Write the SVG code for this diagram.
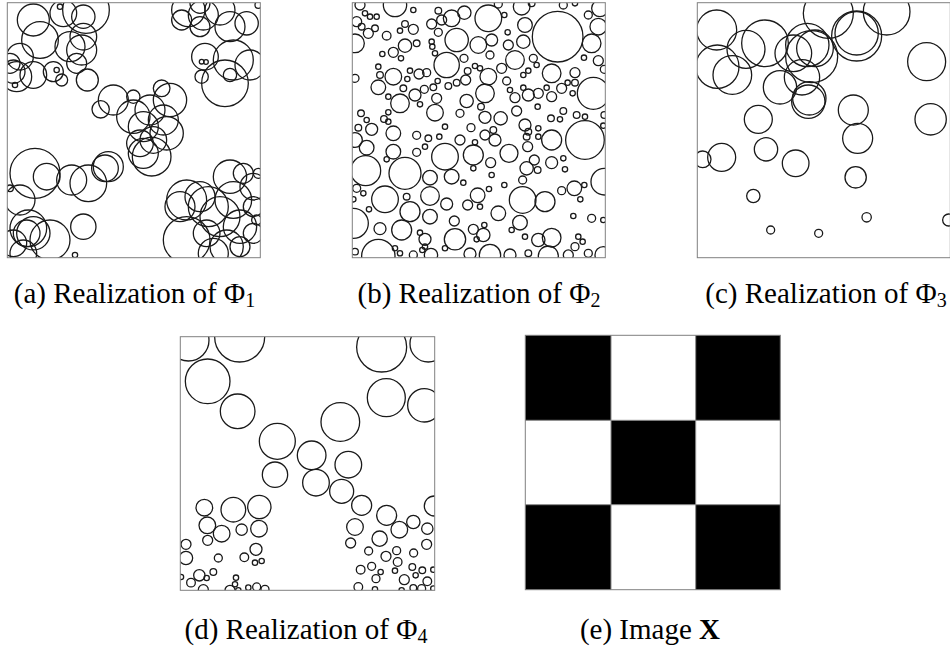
<svg xmlns="http://www.w3.org/2000/svg" width="950" height="648" viewBox="0 0 950 648">
<style>
.c circle{fill:none;stroke:#1a1a1a;stroke-width:3.9}
.fr{fill:none;stroke:#808080;stroke-width:1}
.cap{font-family:"Liberation Serif","Times New Roman",serif;font-size:29px;fill:#000;text-anchor:middle}
.sub{font-size:20px}
</style>
<defs>
<clipPath id="ca"><rect x="7.3" y="2.7" width="253" height="255"/></clipPath>
<clipPath id="cb"><rect x="352.3" y="2.7" width="253" height="255"/></clipPath>
<clipPath id="cc"><rect x="697.3" y="2.7" width="253" height="255"/></clipPath>
<clipPath id="cd"><rect x="180.3" y="336.7" width="254.4" height="253.6"/></clipPath>
</defs>
<rect width="950" height="648" fill="#fff"/>

<g id="panel-a">
<rect x="7.3" y="2.7" width="253" height="255" fill="#fff"/>
<g clip-path="url(#ca)"><g class="c" transform="scale(0.3333)">
<circle cx="100" cy="60" r="48"/><circle cx="120" cy="120" r="55"/><circle cx="190" cy="40" r="40"/><circle cx="250" cy="50" r="35"/><circle cx="258" cy="30" r="70"/><circle cx="210" cy="140" r="45"/><circle cx="250" cy="110" r="40"/><circle cx="245" cy="150" r="45"/><circle cx="230" cy="190" r="30"/><circle cx="60" cy="170" r="40"/><circle cx="40" cy="215" r="35"/><circle cx="100" cy="225" r="40"/><circle cx="160" cy="215" r="30"/><circle cx="50" cy="230" r="45"/><circle cx="185" cy="240" r="18"/><circle cx="170" cy="210" r="8"/><circle cx="45" cy="255" r="8"/><circle cx="180" cy="20" r="8"/><circle cx="262" cy="240" r="33"/><circle cx="30" cy="190" r="30"/>
<circle cx="565" cy="30" r="50"/><circle cx="610" cy="45" r="45"/><circle cx="660" cy="30" r="45"/><circle cx="690" cy="80" r="45"/><circle cx="740" cy="70" r="35"/><circle cx="600" cy="80" r="30"/><circle cx="545" cy="60" r="30"/><circle cx="700" cy="180" r="60"/><circle cx="615" cy="170" r="40"/><circle cx="750" cy="195" r="45"/><circle cx="675" cy="250" r="70"/><circle cx="605" cy="230" r="20"/><circle cx="690" cy="225" r="20"/><circle cx="605" cy="185" r="7"/><circle cx="618" cy="186" r="7"/><circle cx="775" cy="15" r="10"/><circle cx="600" cy="10" r="30"/>
<circle cx="340" cy="300" r="45"/><circle cx="302" cy="328" r="26"/><circle cx="400" cy="290" r="20"/><circle cx="485" cy="265" r="25"/><circle cx="510" cy="300" r="50"/><circle cx="450" cy="330" r="45"/><circle cx="400" cy="350" r="50"/><circle cx="430" cy="380" r="45"/><circle cx="490" cy="360" r="45"/><circle cx="500" cy="400" r="50"/><circle cx="460" cy="420" r="40"/><circle cx="430" cy="460" r="45"/><circle cx="455" cy="470" r="58"/><circle cx="420" cy="430" r="40"/>
<circle cx="105" cy="520" r="75"/><circle cx="140" cy="530" r="40"/><circle cx="215" cy="540" r="45"/><circle cx="265" cy="550" r="55"/><circle cx="325" cy="500" r="45"/><circle cx="315" cy="505" r="40"/><circle cx="60" cy="600" r="45"/><circle cx="30" cy="565" r="10"/><circle cx="85" cy="685" r="55"/><circle cx="80" cy="700" r="40"/><circle cx="100" cy="700" r="50"/><circle cx="250" cy="680" r="38"/><circle cx="150" cy="720" r="60"/><circle cx="40" cy="730" r="40"/><circle cx="70" cy="760" r="40"/><circle cx="225" cy="765" r="8"/>
<circle cx="560" cy="600" r="60"/><circle cx="540" cy="620" r="45"/><circle cx="600" cy="590" r="45"/><circle cx="625" cy="620" r="60"/><circle cx="690" cy="530" r="50"/><circle cx="730" cy="520" r="30"/><circle cx="760" cy="560" r="40"/><circle cx="700" cy="600" r="55"/><circle cx="660" cy="650" r="60"/><circle cx="720" cy="680" r="50"/><circle cx="560" cy="720" r="70"/><circle cx="620" cy="700" r="40"/><circle cx="680" cy="740" r="50"/><circle cx="720" cy="740" r="30"/><circle cx="760" cy="620" r="30"/><circle cx="770" cy="660" r="15"/><circle cx="775" cy="520" r="15"/><circle cx="640" cy="760" r="45"/><circle cx="760" cy="700" r="30"/>
</g></g>
<rect class="fr" x="7.3" y="2.7" width="253" height="255"/>
</g>

<g id="panel-b">
<g clip-path="url(#cb)"><g class="c" transform="translate(345,0) scale(0.3333)">
<circle cx="150" cy="15" r="35"/><circle cx="45" cy="15" r="15"/><circle cx="60" cy="40" r="8"/><circle cx="75" cy="50" r="8"/><circle cx="95" cy="50" r="8"/><circle cx="35" cy="65" r="15"/><circle cx="50" cy="80" r="10"/><circle cx="70" cy="100" r="15"/><circle cx="90" cy="85" r="10"/><circle cx="30" cy="130" r="28"/><circle cx="125" cy="107" r="13"/><circle cx="180" cy="72" r="10"/><circle cx="165" cy="92" r="8"/><circle cx="205" cy="88" r="15"/><circle cx="260" cy="72" r="15"/><circle cx="280" cy="97" r="12"/><circle cx="205" cy="30" r="8"/><circle cx="280" cy="32" r="10"/><circle cx="290" cy="60" r="15"/><circle cx="320" cy="55" r="25"/><circle cx="358" cy="38" r="20"/><circle cx="430" cy="55" r="40"/><circle cx="460" cy="12" r="12"/><circle cx="478" cy="45" r="8"/><circle cx="530" cy="20" r="25"/><circle cx="540" cy="75" r="22"/><circle cx="560" cy="10" r="10"/><circle cx="638" cy="110" r="76"/><circle cx="655" cy="15" r="12"/><circle cx="690" cy="10" r="8"/><circle cx="730" cy="45" r="12"/><circle cx="760" cy="80" r="25"/><circle cx="765" cy="25" r="25"/><circle cx="740" cy="130" r="28"/><circle cx="335" cy="120" r="35"/><circle cx="400" cy="135" r="25"/><circle cx="440" cy="120" r="18"/><circle cx="488" cy="97" r="8"/><circle cx="490" cy="135" r="15"/><circle cx="535" cy="125" r="20"/><circle cx="260" cy="125" r="8"/><circle cx="262" cy="140" r="8"/><circle cx="215" cy="130" r="10"/><circle cx="180" cy="137" r="20"/><circle cx="145" cy="157" r="15"/><circle cx="112" cy="162" r="8"/><circle cx="168" cy="175" r="8"/><circle cx="270" cy="160" r="8"/><circle cx="305" cy="195" r="38"/><circle cx="357" cy="175" r="12"/><circle cx="435" cy="165" r="12"/><circle cx="510" cy="180" r="28"/><circle cx="565" cy="175" r="12"/><circle cx="717" cy="173" r="8"/><circle cx="760" cy="182" r="15"/><circle cx="778" cy="208" r="12"/><circle cx="620" cy="220" r="28"/><circle cx="690" cy="218" r="15"/><circle cx="575" cy="195" r="8"/><circle cx="550" cy="212" r="8"/><circle cx="535" cy="225" r="8"/><circle cx="470" cy="205" r="15"/><circle cx="430" cy="230" r="25"/><circle cx="405" cy="205" r="8"/><circle cx="390" cy="198" r="8"/><circle cx="368" cy="213" r="10"/><circle cx="362" cy="240" r="15"/><circle cx="335" cy="248" r="10"/><circle cx="310" cy="258" r="10"/><circle cx="245" cy="218" r="12"/><circle cx="222" cy="222" r="15"/><circle cx="195" cy="212" r="8"/><circle cx="187" cy="237" r="8"/><circle cx="145" cy="230" r="25"/><circle cx="105" cy="225" r="10"/><circle cx="100" cy="200" r="8"/><circle cx="100" cy="262" r="22"/><circle cx="30" cy="235" r="12"/><circle cx="130" cy="290" r="8"/><circle cx="175" cy="265" r="10"/><circle cx="165" cy="310" r="28"/><circle cx="210" cy="285" r="18"/><circle cx="238" cy="268" r="12"/><circle cx="265" cy="262" r="10"/><circle cx="278" cy="243" r="8"/><circle cx="275" cy="295" r="15"/><circle cx="225" cy="313" r="8"/><circle cx="270" cy="338" r="25"/><circle cx="365" cy="303" r="20"/><circle cx="420" cy="280" r="28"/><circle cx="408" cy="320" r="10"/><circle cx="485" cy="243" r="12"/><circle cx="495" cy="270" r="8"/><circle cx="510" cy="293" r="15"/><circle cx="535" cy="263" r="8"/><circle cx="550" cy="285" r="18"/><circle cx="580" cy="280" r="15"/><circle cx="605" cy="263" r="8"/><circle cx="620" cy="290" r="15"/><circle cx="650" cy="265" r="15"/><circle cx="668" cy="248" r="8"/><circle cx="683" cy="280" r="8"/><circle cx="690" cy="248" r="10"/><circle cx="745" cy="280" r="48"/><circle cx="778" cy="345" r="10"/><circle cx="695" cy="345" r="10"/><circle cx="720" cy="350" r="8"/><circle cx="655" cy="333" r="10"/><circle cx="645" cy="358" r="8"/><circle cx="618" cy="355" r="10"/><circle cx="578" cy="320" r="8"/><circle cx="515" cy="333" r="15"/><circle cx="540" cy="375" r="18"/><circle cx="550" cy="395" r="10"/><circle cx="545" cy="410" r="10"/><circle cx="548" cy="440" r="15"/><circle cx="580" cy="385" r="8"/><circle cx="580" cy="410" r="8"/><circle cx="620" cy="420" r="30"/><circle cx="720" cy="420" r="58"/><circle cx="775" cy="377" r="8"/><circle cx="420" cy="352" r="18"/><circle cx="467" cy="355" r="20"/><circle cx="378" cy="383" r="12"/><circle cx="390" cy="427" r="8"/><circle cx="420" cy="405" r="15"/><circle cx="445" cy="390" r="10"/><circle cx="450" cy="420" r="18"/><circle cx="345" cy="340" r="12"/><circle cx="300" cy="380" r="8"/><circle cx="283" cy="410" r="8"/><circle cx="250" cy="415" r="10"/><circle cx="240" cy="440" r="8"/><circle cx="215" cy="406" r="12"/><circle cx="145" cy="400" r="22"/><circle cx="117" cy="357" r="10"/><circle cx="130" cy="365" r="8"/><circle cx="80" cy="388" r="18"/><circle cx="40" cy="383" r="10"/><circle cx="48" cy="340" r="10"/><circle cx="65" cy="360" r="8"/><circle cx="130" cy="337" r="8"/><circle cx="30" cy="420" r="22"/><circle cx="65" cy="443" r="22"/><circle cx="145" cy="455" r="22"/><circle cx="125" cy="478" r="8"/><circle cx="215" cy="457" r="12"/><circle cx="300" cy="470" r="40"/><circle cx="345" cy="420" r="15"/><circle cx="385" cy="465" r="30"/><circle cx="437" cy="488" r="15"/><circle cx="492" cy="460" r="27"/><circle cx="545" cy="505" r="20"/><circle cx="578" cy="510" r="10"/><circle cx="568" cy="480" r="15"/><circle cx="620" cy="488" r="18"/><circle cx="655" cy="475" r="8"/><circle cx="660" cy="508" r="8"/><circle cx="62" cy="512" r="45"/><circle cx="180" cy="520" r="48"/><circle cx="255" cy="533" r="22"/><circle cx="320" cy="530" r="22"/><circle cx="35" cy="565" r="12"/><circle cx="55" cy="580" r="8"/><circle cx="25" cy="598" r="8"/><circle cx="120" cy="598" r="40"/><circle cx="185" cy="590" r="10"/><circle cx="255" cy="588" r="28"/><circle cx="305" cy="612" r="18"/><circle cx="368" cy="615" r="15"/><circle cx="398" cy="586" r="22"/><circle cx="432" cy="567" r="8"/><circle cx="405" cy="620" r="8"/><circle cx="478" cy="555" r="8"/><circle cx="533" cy="540" r="12"/><circle cx="533" cy="600" r="40"/><circle cx="600" cy="605" r="30"/><circle cx="650" cy="572" r="12"/><circle cx="688" cy="565" r="22"/><circle cx="706" cy="598" r="8"/><circle cx="718" cy="555" r="8"/><circle cx="778" cy="545" r="40"/><circle cx="72" cy="628" r="8"/><circle cx="25" cy="670" r="45"/><circle cx="105" cy="686" r="18"/><circle cx="170" cy="690" r="30"/><circle cx="195" cy="635" r="30"/><circle cx="255" cy="650" r="22"/><circle cx="328" cy="663" r="15"/><circle cx="330" cy="718" r="32"/><circle cx="385" cy="688" r="15"/><circle cx="415" cy="705" r="20"/><circle cx="418" cy="675" r="8"/><circle cx="460" cy="640" r="22"/><circle cx="525" cy="668" r="22"/><circle cx="500" cy="690" r="8"/><circle cx="540" cy="710" r="8"/><circle cx="580" cy="720" r="20"/><circle cx="620" cy="713" r="28"/><circle cx="685" cy="648" r="8"/><circle cx="740" cy="655" r="12"/><circle cx="775" cy="660" r="8"/><circle cx="700" cy="710" r="8"/><circle cx="713" cy="725" r="8"/><circle cx="225" cy="698" r="8"/><circle cx="240" cy="718" r="18"/><circle cx="240" cy="740" r="8"/><circle cx="232" cy="750" r="8"/><circle cx="100" cy="768" r="50"/><circle cx="150" cy="745" r="8"/><circle cx="165" cy="760" r="8"/><circle cx="205" cy="765" r="12"/><circle cx="258" cy="765" r="20"/><circle cx="300" cy="745" r="8"/><circle cx="375" cy="762" r="18"/><circle cx="435" cy="765" r="32"/><circle cx="495" cy="765" r="18"/><circle cx="550" cy="760" r="10"/><circle cx="610" cy="768" r="30"/><circle cx="670" cy="765" r="15"/><circle cx="690" cy="740" r="12"/><circle cx="730" cy="760" r="12"/><circle cx="775" cy="765" r="25"/><circle cx="30" cy="755" r="10"/><circle cx="395" cy="718" r="8"/><circle cx="385" cy="505" r="8"/><circle cx="440" cy="525" r="8"/><circle cx="355" cy="548" r="8"/>
</g></g>
<rect class="fr" x="352.3" y="2.7" width="253" height="255"/>
</g>

<g id="panel-c">
<g clip-path="url(#cc)"><g class="c" transform="translate(690,0) scale(0.3333)">
<circle cx="80" cy="90" r="60"/><circle cx="82" cy="200" r="65"/><circle cx="127" cy="225" r="58"/><circle cx="168" cy="148" r="57"/><circle cx="225" cy="130" r="70"/><circle cx="270" cy="262" r="50"/><circle cx="310" cy="160" r="55"/><circle cx="352" cy="135" r="65"/><circle cx="365" cy="170" r="78"/><circle cx="375" cy="145" r="55"/><circle cx="336" cy="232" r="53"/><circle cx="358" cy="295" r="50"/><circle cx="355" cy="305" r="50"/><circle cx="415" cy="40" r="75"/><circle cx="500" cy="100" r="65"/><circle cx="500" cy="108" r="75"/><circle cx="590" cy="35" r="70"/><circle cx="710" cy="185" r="57"/><circle cx="722" cy="358" r="47"/><circle cx="490" cy="330" r="45"/><circle cx="503" cy="415" r="45"/><circle cx="497" cy="532" r="32"/><circle cx="205" cy="358" r="42"/><circle cx="228" cy="448" r="35"/><circle cx="317" cy="490" r="40"/><circle cx="95" cy="472" r="42"/><circle cx="38" cy="478" r="25"/><circle cx="190" cy="588" r="20"/><circle cx="242" cy="690" r="12"/><circle cx="386" cy="700" r="12"/><circle cx="530" cy="652" r="14"/><circle cx="776" cy="660" r="18"/>
</g></g>
<rect class="fr" x="697.3" y="2.7" width="253" height="255"/>
</g>

<g id="panel-d">
<g clip-path="url(#cd)"><g class="c" transform="translate(175,332) scale(0.3333)">
<circle cx="40" cy="25" r="62"/><circle cx="194" cy="15" r="75"/><circle cx="98" cy="148" r="67"/><circle cx="188" cy="238" r="52"/><circle cx="307" cy="328" r="54"/><circle cx="300" cy="428" r="38"/><circle cx="410" cy="370" r="43"/><circle cx="423" cy="452" r="40"/><circle cx="496" cy="270" r="58"/><circle cx="520" cy="398" r="40"/><circle cx="500" cy="478" r="36"/><circle cx="560" cy="520" r="30"/><circle cx="620" cy="45" r="75"/><circle cx="760" cy="35" r="55"/><circle cx="634" cy="197" r="57"/><circle cx="748" cy="220" r="50"/><circle cx="778" cy="522" r="30"/><circle cx="635" cy="550" r="30"/><circle cx="715" cy="570" r="20"/><circle cx="673" cy="593" r="25"/><circle cx="757" cy="590" r="17"/><circle cx="540" cy="585" r="25"/><circle cx="527" cy="633" r="15"/><circle cx="614" cy="620" r="23"/><circle cx="755" cy="637" r="15"/><circle cx="581" cy="657" r="12"/><circle cx="633" cy="673" r="15"/><circle cx="665" cy="656" r="12"/><circle cx="716" cy="663" r="12"/><circle cx="668" cy="690" r="13"/><circle cx="557" cy="713" r="13"/><circle cx="590" cy="703" r="12"/><circle cx="617" cy="720" r="8"/><circle cx="603" cy="740" r="12"/><circle cx="660" cy="716" r="8"/><circle cx="712" cy="705" r="10"/><circle cx="742" cy="715" r="10"/><circle cx="722" cy="730" r="8"/><circle cx="688" cy="743" r="15"/><circle cx="757" cy="748" r="13"/><circle cx="775" cy="713" r="8"/><circle cx="550" cy="765" r="13"/><circle cx="600" cy="772" r="8"/><circle cx="680" cy="775" r="8"/><circle cx="715" cy="768" r="10"/><circle cx="740" cy="770" r="12"/><circle cx="775" cy="770" r="8"/>
<circle cx="88" cy="527" r="25"/><circle cx="175" cy="533" r="37"/><circle cx="253" cy="525" r="35"/><circle cx="97" cy="580" r="25"/><circle cx="140" cy="605" r="25"/><circle cx="200" cy="593" r="17"/><circle cx="252" cy="590" r="25"/><circle cx="98" cy="625" r="15"/><circle cx="33" cy="637" r="15"/><circle cx="33" cy="678" r="20"/><circle cx="130" cy="678" r="12"/><circle cx="208" cy="676" r="13"/><circle cx="243" cy="652" r="18"/><circle cx="240" cy="692" r="8"/><circle cx="260" cy="687" r="8"/><circle cx="115" cy="720" r="10"/><circle cx="73" cy="730" r="17"/><circle cx="95" cy="738" r="8"/><circle cx="18" cy="735" r="8"/><circle cx="48" cy="752" r="13"/><circle cx="85" cy="773" r="15"/><circle cx="183" cy="737" r="8"/><circle cx="180" cy="757" r="8"/><circle cx="165" cy="775" r="15"/><circle cx="190" cy="775" r="8"/><circle cx="220" cy="767" r="8"/><circle cx="245" cy="765" r="12"/><circle cx="270" cy="772" r="12"/>
</g></g>
<rect class="fr" x="180.3" y="336.7" width="254.4" height="253.6"/>
</g>

<g id="panel-e">
<rect x="525.3" y="335.3" width="255" height="254.4" fill="#fff"/>
<g fill="#000">
<rect x="525.3" y="335.3" width="85.7" height="85"/>
<rect x="695.7" y="335.3" width="84.6" height="85"/>
<rect x="611" y="420.3" width="84.7" height="84.4"/>
<rect x="525.3" y="504.7" width="85.7" height="85"/>
<rect x="695.7" y="504.7" width="84.6" height="85"/>
</g>
<g stroke="#8a8a8a" stroke-width="1">
<line x1="611" y1="335.3" x2="611" y2="589.7"/>
<line x1="695.7" y1="335.3" x2="695.7" y2="589.7"/>
<line x1="525.3" y1="420.3" x2="780.3" y2="420.3"/>
<line x1="525.3" y1="504.7" x2="780.3" y2="504.7"/>
</g>
<rect class="fr" x="525.3" y="335.3" width="255" height="254.4"/>
</g>

<g id="captions">
<text class="cap" x="134.5" y="303">(a) Realization of Φ<tspan class="sub" dy="4">1</tspan></text>
<text class="cap" x="479" y="303">(b) Realization of Φ<tspan class="sub" dy="4">2</tspan></text>
<text class="cap" x="826" y="303">(c) Realization of Φ<tspan class="sub" dy="4">3</tspan></text>
<text class="cap" x="306" y="638.5">(d) Realization of Φ<tspan class="sub" dy="4">4</tspan></text>
<text class="cap" x="650" y="638.5">(e) Image <tspan font-weight="bold">X</tspan></text>
</g>
</svg>
